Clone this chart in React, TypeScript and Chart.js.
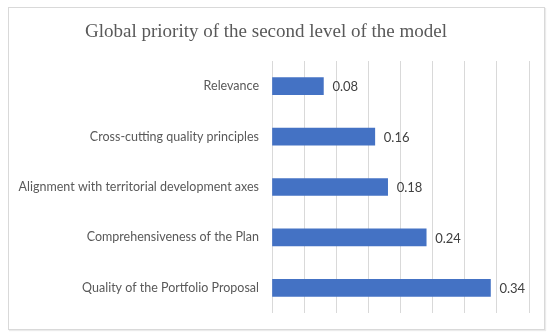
import React, { useEffect, useRef } from "react";
import { Chart, registerables } from "chart.js";

Chart.register(...registerables);

const TITLE = "Global priority of the second level of the model";
const categories = [
  "Relevance",
  "Cross-cutting quality principles",
  "Alignment with territorial development axes",
  "Comprehensiveness of the Plan",
  "Quality of the Portfolio Proposal",
];
const values = [0.08, 0.16, 0.18, 0.24, 0.34];
const xMin = 0;
const xMax = 0.4;
const xStep = 0.05;

const titlePlugin = {
  id: "customTitle",
  afterDraw(chart: any) {
    const ctx = chart.ctx;
    ctx.save();
    ctx.font = '19px "Liberation Serif", serif';
    ctx.fillStyle = "#595959";
    ctx.textAlign = "center";
    ctx.textBaseline = "alphabetic";
    ctx.fillText(TITLE, 266, 37);
    ctx.restore();
  },
};

const valueLabels = {
  id: "valueLabels",
  afterDatasetsDraw(chart: any) {
    const ctx = chart.ctx;
    const meta = chart.getDatasetMeta(0);
    ctx.save();
    ctx.font = '13px "Lato", sans-serif';
    ctx.fillStyle = "#404040";
    ctx.textAlign = "left";
    ctx.textBaseline = "middle";
    meta.data.forEach((el: any, i: number) => {
      const v = chart.data.datasets[0].data[i];
      ctx.fillText(Number(v).toFixed(2), el.x + 9, el.y + 1);
    });
    ctx.restore();
  },
};

export default function App() {
  const ref = useRef<HTMLCanvasElement | null>(null);
  useEffect(() => {
    document.body.style.margin = "0";
    const chart = new Chart(ref.current as HTMLCanvasElement, {
      type: "bar",
      data: {
        labels: categories,
        datasets: [
          {
            data: values,
            backgroundColor: "#4472C4",
            borderWidth: 0,
            barThickness: 17,
          },
        ],
      },
      options: {
        indexAxis: "y",
        responsive: false,
        animation: false,
        layout: { padding: { top: 61, bottom: 23, left: 0, right: 21 } },
        plugins: {
          legend: { display: false },
          title: { display: false },
          tooltip: { enabled: false },
        },
        scales: {
          x: {
            min: xMin,
            max: xMax,
            ticks: { display: false, stepSize: xStep },
            grid: { color: "#d9d9d9", lineWidth: 1, drawTicks: false },
            border: { display: false },
            afterFit(scale: any) {
              scale.height = 0;
            },
          },
          y: {
            grid: { display: false, drawTicks: false },
            border: { display: false },
            ticks: {
              color: "#595959",
              font: { family: "Lato", size: 12.5 },
              padding: 13,
            },
            afterFit(scale: any) {
              scale.width = 272;
            },
          },
        },
      },
      plugins: [titlePlugin, valueLabels],
    } as any);
    return () => chart.destroy();
  }, []);

  return (
    <div style={{ position: "relative", width: 550, height: 336, background: "#fff" }}>
      <div
        style={{
          position: "absolute",
          left: 8,
          top: 7,
          width: 535,
          height: 321,
          border: "1px solid #d9d9d9",
          boxShadow: "1px 1px 1px rgba(0,0,0,0.08)",
        }}
      />
      <canvas
        ref={ref}
        width={550}
        height={336}
        style={{ position: "absolute", left: 0, top: 0 }}
      />
    </div>
  );
}
